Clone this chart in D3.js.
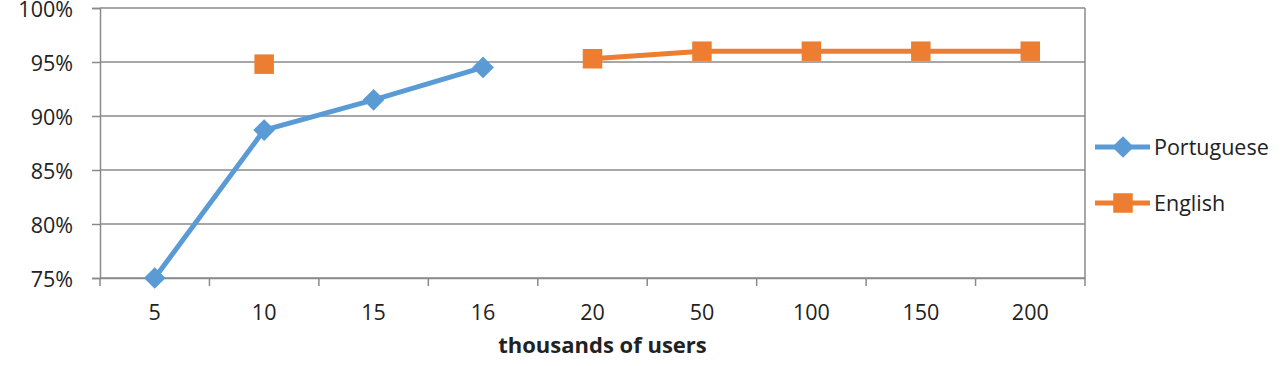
<!DOCTYPE html>
<html>
<head>
<meta charset="utf-8">
<script src="https://cdn.jsdelivr.net/npm/d3@7"></script>
<style>
  body { margin: 0; background: #fff; }
  text { font-family: "Open Sans", sans-serif; fill: #222; }
</style>
</head>
<body>
<div id="wrapper"></div>
<script>
// data
const categories = ["5", "10", "15", "16", "20", "50", "100", "150", "200"]
const portuguese = [0.75, 0.887, 0.915, 0.945, null, null, null, null, null]
const english = [null, 0.948, null, null, 0.953, 0.96, 0.96, 0.96, 0.96]
const yTicks = [0.75, 0.80, 0.85, 0.90, 0.95, 1.00]

const series = [
  {name: "Portuguese", values: portuguese, color: "#5B9BD5", marker: "diamond"},
  {name: "English", values: english, color: "#ED7D31", marker: "square"},
]

const dimensions = {
  width: 1281,
  height: 366,
  margin: {top: 8, right: 196, bottom: 88, left: 100},
}
dimensions.boundedWidth = dimensions.width - dimensions.margin.left - dimensions.margin.right
dimensions.boundedHeight = dimensions.height - dimensions.margin.top - dimensions.margin.bottom

const svg = d3.select("#wrapper")
  .append("svg")
    .attr("width", dimensions.width)
    .attr("height", dimensions.height)

const bounds = svg.append("g")
  .attr("transform", `translate(${dimensions.margin.left},${dimensions.margin.top})`)

const xScale = d3.scaleBand()
  .domain(categories)
  .range([0, dimensions.boundedWidth])
  .padding(0)

const yScale = d3.scaleLinear()
  .domain([0.75, 1])
  .range([dimensions.boundedHeight, 0])

const gridColor = "#8a8a8a"
const fontSize = 21.5

// gridlines
bounds.append("g")
  .selectAll("line")
  .data(yTicks)
  .join("line")
    .attr("x1", 0)
    .attr("x2", dimensions.boundedWidth)
    .attr("y1", d => yScale(d))
    .attr("y2", d => yScale(d))
    .attr("stroke", gridColor)
    .attr("stroke-width", 1.5)

// right border
bounds.append("line")
  .attr("x1", dimensions.boundedWidth)
  .attr("x2", dimensions.boundedWidth)
  .attr("y1", 0)
  .attr("y2", dimensions.boundedHeight)
  .attr("stroke", gridColor)
  .attr("stroke-width", 1.5)

// y axis
const yAxis = bounds.append("g")
  .call(d3.axisLeft(yScale).tickValues(yTicks).tickFormat(d3.format(".0%")).tickSize(8).tickPadding(19))
yAxis.select(".domain").attr("stroke", gridColor).attr("stroke-width", 1.5)
yAxis.selectAll(".tick line").attr("stroke", gridColor).attr("stroke-width", 1.5)
yAxis.selectAll("text")
  .attr("font-size", fontSize)
  .attr("font-family", "Open Sans")
  .attr("fill", "#222")
  .attr("dy", "0.4em")

// x axis, ticks on band edges
const xAxis = bounds.append("g")
  .attr("transform", `translate(0,${dimensions.boundedHeight})`)
  .call(d3.axisBottom(xScale).tickSize(0).tickPadding(27))
xAxis.select(".domain").attr("stroke", gridColor).attr("stroke-width", 1.5)
xAxis.selectAll("text").attr("font-size", fontSize).attr("font-family", "Open Sans").attr("fill", "#222")
xAxis.selectAll(".edge")
  .data(categories.concat([null]))
  .join("line")
    .attr("class", "edge")
    .attr("x1", (d, i) => i < categories.length ? xScale(d) : dimensions.boundedWidth)
    .attr("x2", (d, i) => i < categories.length ? xScale(d) : dimensions.boundedWidth)
    .attr("y1", 0)
    .attr("y2", 8)
    .attr("stroke", gridColor)
    .attr("stroke-width", 1.5)

xAxis.append("text")
  .attr("x", dimensions.boundedWidth / 2 + 10)
  .attr("y", 75)
  .attr("text-anchor", "middle")
  .attr("font-size", 22)
  .attr("font-weight", "bold")
  .attr("fill", "#111")
  .text("thousands of users")

const xAccessor = (d, i) => xScale(categories[i]) + xScale.bandwidth() / 2

const markerPath = {
  diamond: d3.symbol(d3.symbolDiamond2, 300)(),
  square: d3.symbol(d3.symbolSquare, 380)(),
}

const lineGenerator = d3.line()
  .defined(d => d != null)
  .x(xAccessor)
  .y(d => yScale(d))

series.forEach(s => {
  const g = bounds.append("g")
  g.append("path")
    .attr("d", lineGenerator(s.values))
    .attr("fill", "none")
    .attr("stroke", s.color)
    .attr("stroke-width", 5)
    .attr("stroke-linejoin", "round")
  g.selectAll(".marker")
    .data(s.values.map((v, i) => ({v, i})).filter(d => d.v != null))
    .join("path")
      .attr("class", "marker")
      .attr("d", markerPath[s.marker])
      .attr("transform", d => `translate(${xAccessor(d.v, d.i)},${yScale(d.v)})`)
      .attr("fill", s.color)
})

// legend
const legend = svg.append("g")
  .attr("transform", `translate(1095, 147)`)
const legendItems = legend.selectAll("g")
  .data(series)
  .join("g")
    .attr("transform", (d, i) => `translate(0, ${i * 56})`)
legendItems.append("line")
  .attr("x1", 0)
  .attr("x2", 55)
  .attr("stroke", d => d.color)
  .attr("stroke-width", 5)
legendItems.append("path")
  .attr("d", d => markerPath[d.marker])
  .attr("transform", "translate(28,0)")
  .attr("fill", d => d.color)
legendItems.append("text")
  .attr("x", 59)
  .attr("dy", "0.36em")
  .attr("font-size", fontSize)
  .text(d => d.name)
</script>
</body>
</html>
